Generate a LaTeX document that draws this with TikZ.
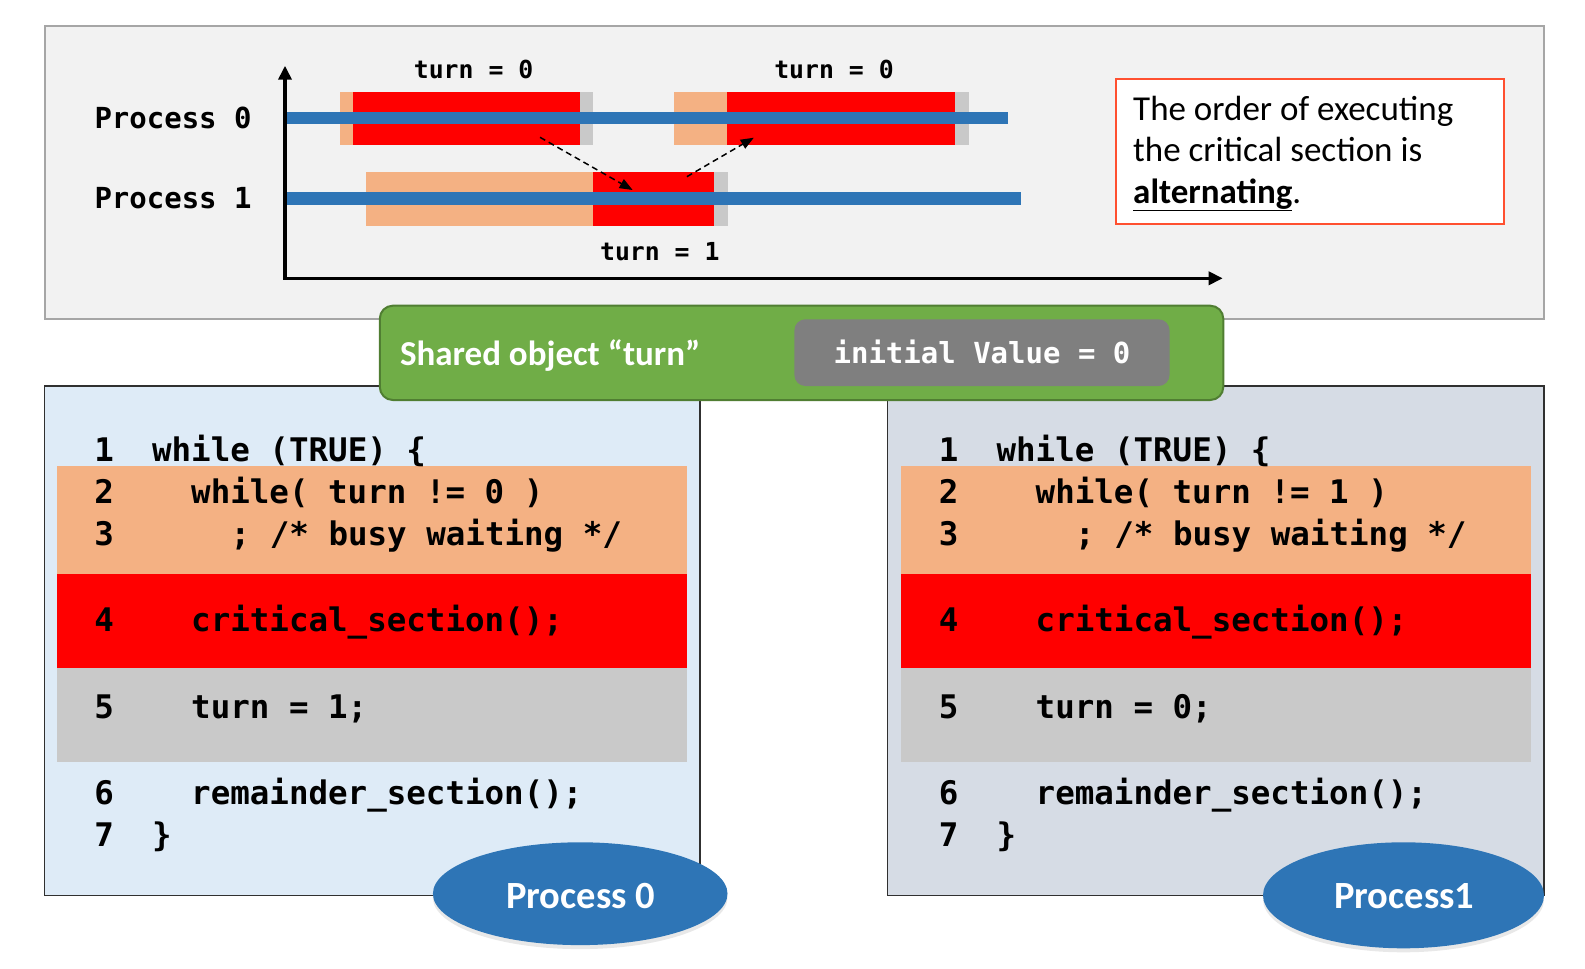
\documentclass[tikz,border=0pt]{standalone}
\usepackage{fontspec}
\setmainfont{Carlito}
\setmonofont{DejaVu Sans Mono}
\usetikzlibrary{arrows.meta,shapes.geometric,shadows}
\definecolor{bgtop}{HTML}{F2F2F2}
\definecolor{tanc}{HTML}{F4B183}
\definecolor{cgray}{HTML}{C9C9C9}
\definecolor{pblue}{HTML}{2E75B6}
\definecolor{lpanel}{HTML}{DEEBF7}
\definecolor{rpanel}{HTML}{D6DCE5}
\definecolor{sgreen}{HTML}{70AD47}
\definecolor{sgreenB}{HTML}{507E32}
\definecolor{vgray}{HTML}{7F7F7F}
\definecolor{boxred}{HTML}{FF5030}
\definecolor{topborder}{HTML}{A6A6A6}
\definecolor{panelborder}{HTML}{303030}
\begin{document}
\begin{tikzpicture}[x=1pt,y=-1pt,
  code/.style={anchor=base west, inner sep=0pt, font=\fontsize{32.5}{38}\selectfont\ttfamily\bfseries},
  tlab/.style={anchor=base, inner sep=0pt, font=\fontsize{24.8}{30}\selectfont\ttfamily\bfseries},
  plab/.style={anchor=base west, inner sep=0pt, font=\fontsize{29}{34}\selectfont\ttfamily\bfseries},
  note/.style={anchor=base west, inner sep=0pt, font=\fontsize{35}{42}\selectfont},
  axis/.style={line width=3.5pt, -{Triangle[length=14pt,width=13pt]}},
  hand/.style={line width=1.5pt, dash pattern=on 6pt off 4pt, -{Triangle[length=13pt,width=10pt]}},
  bar/.style={fill=pblue},
  pell/.style={ellipse, fill=pblue, inner sep=0pt, text=white, font=\fontsize{38.5}{44}\selectfont\bfseries,
     drop shadow={opacity=0.18, shadow xshift=0pt, shadow yshift=-4pt}}
]
\useasboundingbox (0,0) rectangle (1585,969);
\fill[white] (0,0) rectangle (1585,969);

% ---------- top timeline box ----------
\draw[topborder, line width=2pt, fill=bgtop] (44.5,25.5) rectangle (1544,319);

% process 0 row
\fill[tanc] (339.5,92.3) rectangle (353.4,144.7);
\fill[red]  (353.4,92.3) rectangle (580.2,144.7);
\fill[cgray] (580.2,92.3) rectangle (593.3,144.7);
\fill[tanc] (674.3,92.3) rectangle (727.1,144.7);
\fill[red]  (727.1,92.3) rectangle (955,144.7);
\fill[cgray] (955,92.3) rectangle (968.5,144.7);
% process 1 row
\fill[tanc] (366,172) rectangle (592.8,225.7);
\fill[red]  (592.8,172) rectangle (714,225.7);
\fill[cgray] (714,172) rectangle (727.6,225.7);
% blue bars
\fill[bar] (287,111.7) rectangle (1008,124);
\fill[bar] (287,192.3) rectangle (1021.3,205);

% axes
\coordinate (origin) at (285,278.3);
\coordinate (ytop) at (285,65.7);
\coordinate (xend) at (1222.7,278.3);
\draw[axis] (origin) -- (ytop);
\draw[axis] ([xshift=-1.75pt]origin) -- (xend);

\node[plab] (p0lab) at (94.3,128.3) {Process 0};
\node[plab] (p1lab) at (94.3,208.3) {Process 1};
\node[tlab] (t0a) at (473.6,78.3) {turn = 0};
\node[tlab] (t0b) at (834,78.3) {turn = 0};
\node[tlab] (t1) at (659.8,260.7) {turn = 1};

\coordinate (a1s) at (540,137.3);
\coordinate (a1e) at (632.6,190);
\coordinate (a2s) at (686.9,176.7);
\coordinate (a2e) at (753.8,137.7);
\draw[hand] (a1s) -- (a1e);
\draw[hand] (a2s) -- (a2e);

% note box
\draw[boxred, line width=2pt, fill=white] (1116,79) rectangle (1504,224);
\node[note] (n1) at (1133,120) {The order of executing};
\node[note] (n2) at (1133,161.7) {the critical section is};
\node[note] (n3) at (1133,203) {\textbf{\underline{alternating}}.};

% ---------- code panels ----------
\draw[panelborder, line width=1.5pt, fill=lpanel] (44.3,386) rectangle (700,895.7);
\draw[panelborder, line width=1.5pt, fill=rpanel] (887.3,386) rectangle (1544,895.7);
\foreach \xa/\xb in {56.5/687, 901/1531.2}{
  \fill[tanc]  (\xa,466) rectangle (\xb,574);
  \fill[red]   (\xa,574) rectangle (\xb,667.7);
  \fill[cgray] (\xa,667.7) rectangle (\xb,761.7);
}

% left code
\node[code] (L1n) at (94.2,461.7) {1};
\node[code] (L1c) at (151.9,461.7) {while (TRUE) \{};
\node[code] (L2n) at (94.2,503.3) {2};
\node[code] (L2c) at (191,503.3) {while( turn != 0 )};
\node[code] (L3n) at (94.2,545) {3};
\node[code] (L3c) at (230.5,545) {; /* busy waiting */};
\node[code] (L4n) at (94.2,631.7) {4};
\node[code] (L4c) at (191,631.7) {critical\_section();};
\node[code] (L5n) at (94.2,718.3) {5};
\node[code] (L5c) at (191,718.3) {turn = 1;};
\node[code] (L6n) at (94.2,804) {6};
\node[code] (L6c) at (191,804) {remainder\_section();};
\node[code] (L7n) at (94.2,846.7) {7};
\node[code] (L7c) at (151.9,846.7) {\}};

% right code
\begin{scope}[xshift=844.5pt]
\node[code] (R1n) at (94.2,461.7) {1};
\node[code] (R1c) at (151.9,461.7) {while (TRUE) \{};
\node[code] (R2n) at (94.2,503.3) {2};
\node[code] (R2c) at (191,503.3) {while( turn != 1 )};
\node[code] (R3n) at (94.2,545) {3};
\node[code] (R3c) at (230.5,545) {; /* busy waiting */};
\node[code] (R4n) at (94.2,631.7) {4};
\node[code] (R4c) at (191,631.7) {critical\_section();};
\node[code] (R5n) at (94.2,718.3) {5};
\node[code] (R5c) at (191,718.3) {turn = 0;};
\node[code] (R6n) at (94.2,804) {6};
\node[code] (R6c) at (191,804) {remainder\_section();};
\node[code] (R7n) at (94.2,846.7) {7};
\node[code] (R7c) at (151.9,846.7) {\}};
\end{scope}

% ---------- shared object bar ----------
\draw[sgreenB, line width=2pt, fill=sgreen, rounded corners=13pt] (379.8,305.7) rectangle (1223.3,400);
\fill[vgray, rounded corners=11pt] (794.4,319.3) rectangle (1169.5,386);
\node[anchor=base west, inner sep=0pt, text=white, font=\fontsize{35}{42}\selectfont\bfseries] (shared) at (399.8,365) {Shared object “turn”};
\node[anchor=base, inner sep=0pt, text=white, font=\fontsize{29}{34}\selectfont\ttfamily\bfseries] (initv) at (982,363) {initial Value = 0};

% ---------- process ellipses ----------
\node[pell, minimum width=294.6pt, minimum height=102.8pt] (e0) at (580.2,893.7) {};
\node[anchor=base, inner sep=0pt, text=white, font=\fontsize{38.5}{44}\selectfont\bfseries] (e0t) at (580.7,908.3) {Process 0};
\node[pell, minimum width=281pt, minimum height=106pt] (e1) at (1403.5,895.3) {};
\node[anchor=base, inner sep=0pt, text=white, font=\fontsize{38.5}{44}\selectfont\bfseries] (e1t) at (1404.2,908.3) {Process1};
\end{tikzpicture}
\end{document}
